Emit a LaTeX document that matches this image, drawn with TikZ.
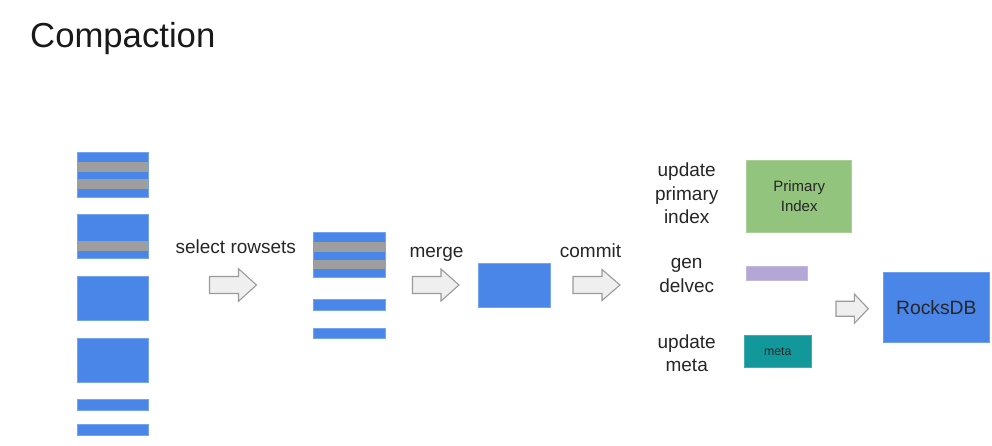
\documentclass[tikz,border=0pt]{standalone}
\usepackage{fontspec}
\setmainfont{Liberation Sans}
\usetikzlibrary{positioning}
\definecolor{segblue}{HTML}{4A86E8}
\definecolor{delgray}{HTML}{9E9E9E}
\definecolor{pkgreen}{HTML}{93C47D}
\definecolor{dvpurple}{HTML}{B4A7D6}
\definecolor{metateal}{HTML}{12979B}
\definecolor{arrowfill}{HTML}{EFEFEF}
\definecolor{arrowline}{HTML}{9A9A9A}
\definecolor{labeltext}{HTML}{262626}
%% fat block arrow: x0, y centre, length, head length, head half height, shaft half height
\newcommand{\fatArrow}[6]
        {
          \draw[blockarrow] (#1,#2-#6) -- (#1+#3-#4,#2-#6) -- (#1+#3-#4,#2-#5)
              -- (#1+#3,#2) -- (#1+#3-#4,#2+#5) -- (#1+#3-#4,#2+#6)
              -- (#1,#2+#6) -- cycle;
        }

\begin{document}
\begin{tikzpicture}[x=1pt, y=-1pt,
    rowset/.style={fill=segblue, draw=segblue!75!white, line width=0.6pt},
    delrows/.style={fill=delgray},
    blockarrow/.style={fill=arrowfill, draw=arrowline, line width=1.1pt, line join=miter},
    steplabel/.style={text=labeltext, font=\fontsize{19}{23.3}\selectfont, inner sep=0pt},
    store/.style={draw=#1!80!white, fill=#1, line width=0.6pt, inner sep=0pt, text=labeltext}]
  \useasboundingbox (0,0) rectangle (992,446);

  \node[anchor=base west, inner sep=0pt, text=black!90,
      font=\fontsize{34.7}{40}\selectfont] (title) at (30,47.3) {Compaction};

  %% input rowsets
  \foreach \top/\bot in {152/197, 214/258, 276/320, 338/382, 399/410, 424/435} {
      \draw[rowset] (77,\top) rectangle (148,\bot);
      }
  \foreach \top/\bot in {162/172, 179/189, 241/251} {
      \fill[delrows] (77.3,\top) rectangle (147.7,\bot);
      }

  %% selected rowsets
  \foreach \top/\bot in {232/277, 299/310, 328/338} {
      \draw[rowset] (313,\top) rectangle (385,\bot);
      }
  \foreach \top/\bot in {242/252, 260/269} {
      \fill[delrows] (313.3,\top) rectangle (384.7,\bot);
      }

  %% merged rowset
  \draw[rowset] (478,263) rectangle (550,307);

  %% steps
  \node[steplabel, anchor=base] (select) at (235.8,253) {select rowsets};
  \node[steplabel, anchor=base] (merge) at (436.5,258) {merge};
  \node[steplabel, anchor=base] (commit) at (590.5,258) {commit};
  \fatArrow{209.5}{285}{47}{18}{16.3}{8.5}
  \fatArrow{412.5}{285}{46.5}{18}{16}{8.5}
  \fatArrow{573}{285}{47}{18}{15.5}{8.5}

  %% commit targets
  \node[steplabel, align=center] (updpk) at (686.7,193.5) {update\\primary\\index};
  \node[steplabel, align=center] (gendv) at (686.7,275.5) {gen\\delvec};
  \node[steplabel, align=center] (updmeta) at (686.7,353.5) {update\\meta};

  \node[store=pkgreen, minimum width=105pt, minimum height=72.7pt, align=center,
      font=\fontsize{15}{20.5}\selectfont] (pkindex) at (799.2,196.3) {Primary\\Index};
  \node[store=dvpurple, minimum width=60.6pt, minimum height=14pt] (delvec) at (777,273) {};
  \node[store=metateal, minimum width=66.7pt, minimum height=31.6pt,
      font=\fontsize{12.3}{15}\selectfont] (meta) at (777.7,351.5) {meta};

  \fatArrow{836}{308.7}{32.3}{14}{14.7}{7.5}
  \node[store=segblue, minimum width=106pt, minimum height=70pt,
      font=\fontsize{19.3}{23}\selectfont] (rocksdb) at (936.3,307.7) {RocksDB};
\end{tikzpicture}
\end{document}
